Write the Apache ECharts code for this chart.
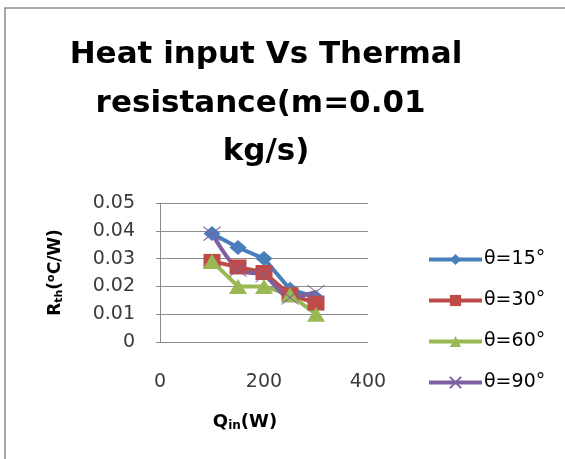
<!DOCTYPE html>
<html>
<head>
<meta charset="utf-8">
<script src="https://cdn.jsdelivr.net/npm/echarts@6/dist/echarts.min.js"></script>
<style>
  html, body { margin: 0; padding: 0; background: #fff; }
  #chart { width: 565px; height: 459px; }
</style>
</head>
<body>
<div id="chart"></div>
<script>
// Heat input (W) at which each thermal resistance was measured
const heatInput = [100, 150, 200, 250, 300];

// Thermal resistance R_th (°C/W) for each inclination angle
const rth15 = [0.039, 0.034, 0.030, 0.019, 0.016];
const rth30 = [0.029, 0.027, 0.025, 0.017, 0.014];
const rth60 = [0.029, 0.020, 0.020, 0.017, 0.010];
const rth90 = [0.039, 0.026, 0.024, 0.016, 0.018];

const seriesNames = ['θ=15°', 'θ=30°', 'θ=60°', 'θ=90°'];
const xTicks = [0, 200, 400];
const yTicks = [0, 0.01, 0.02, 0.03, 0.04, 0.05];

const FONT = '"DejaVu Sans", Verdana, sans-serif';
const colors = ['#4A7EBB', '#BE4B48', '#98B954', '#7D60A0'];

function pairs(ys) {
  return heatInput.map((x, i) => [x, ys[i]]);
}

const chart = echarts.init(document.getElementById('chart'), null, { renderer: 'canvas' });

chart.setOption({
  backgroundColor: '#ffffff',
  animation: false,
  color: colors,
  title: {
    text: 'Heat input Vs Thermal\nresistance(m=0.01 \nkg/s)',
    left: 261,
    top: 26,
    textAlign: 'center',
    textStyle: {
      fontFamily: FONT,
      fontWeight: 'bold',
      fontSize: 31,
      lineHeight: 48.5,
      color: '#000'
    }
  },
  graphic: [{
    type: 'rect',
    shape: { x: 5, y: 8, width: 620, height: 520 },
    style: { fill: null, stroke: '#8a8a8a', lineWidth: 1.5 },
    silent: true
  }],
  legend: {
    orient: 'vertical',
    left: 422,
    top: 245,
    itemWidth: 53,
    itemHeight: 14,
    itemGap: 22,
    lineStyle: { width: 4 },
    textStyle: { fontFamily: FONT, fontSize: 19, color: '#000', padding: [0, 0, 0, -3] },
    data: seriesNames
  },
  grid: { left: 160, right: 197, top: 203, bottom: 117, containLabel: false },
  xAxis: {
    type: 'value',
    min: xTicks[0],
    max: xTicks[xTicks.length - 1],
    interval: xTicks[1] - xTicks[0],
    name: '{a|Q}{s|in}{a|(W)}',
    nameLocation: 'middle',
    nameGap: 70,
    nameTextStyle: {
      padding: [0, 38, 0, 0],
      rich: {
        a: { fontFamily: FONT, fontWeight: 'bold', fontSize: 18, color: '#000' },
        s: { fontFamily: FONT, fontWeight: 'bold', fontSize: 12, color: '#000', padding: [8, 0, 0, 0] }
      }
    },
    axisLine: { show: false },
    axisTick: { show: false },
    splitLine: { show: false },
    axisLabel: { fontFamily: FONT, fontSize: 19, color: '#3a3a3a', margin: 31 }
  },
  yAxis: {
    type: 'value',
    min: yTicks[0],
    max: yTicks[yTicks.length - 1],
    interval: yTicks[1] - yTicks[0],
    name: '{a|R}{s|th}{a|(}{p|o}{a|C/W)}',
    nameLocation: 'middle',
    nameRotate: 90,
    nameGap: 95,
    nameTextStyle: {
      rich: {
        a: { fontFamily: FONT, fontWeight: 'bold', fontSize: 17, color: '#000' },
        s: { fontFamily: FONT, fontWeight: 'bold', fontSize: 11, color: '#000', padding: [8, 0, 0, 0] },
        p: { fontFamily: FONT, fontWeight: 'bold', fontSize: 11, color: '#000', padding: [0, 0, 8, 0] }
      }
    },
    axisLine: { show: true, lineStyle: { color: '#8c8c8c', width: 1 } },
    axisTick: { show: true, length: 4, lineStyle: { color: '#8c8c8c' } },
    splitLine: { show: true, lineStyle: { color: '#8c8c8c', width: 1 } },
    axisLabel: {
      fontFamily: FONT, fontSize: 19, color: '#3a3a3a', margin: 25,
      formatter: v => (v === 0 ? '0' : v.toFixed(2))
    }
  },
  series: [
    {
      name: seriesNames[0], type: 'line', data: pairs(rth15),
      symbol: 'diamond', symbolSize: [17, 15],
      lineStyle: { width: 4 }
    },
    {
      name: seriesNames[1], type: 'line', data: pairs(rth30),
      symbol: 'rect', symbolSize: [17, 15],
      lineStyle: { width: 4 }
    },
    {
      name: seriesNames[2], type: 'line', data: pairs(rth60),
      symbol: 'triangle', symbolSize: [18, 15],
      lineStyle: { width: 4 }
    },
    {
      name: seriesNames[3], type: 'line', data: pairs(rth90),
      smooth: 0.3,
      symbol: 'path://M0,0L10,10M10,0L0,10', symbolSize: [17, 14],
      itemStyle: { color: colors[3], borderColor: colors[3], borderWidth: 1 },
      lineStyle: { width: 4 }
    }
  ]
});
</script>
</body>
</html>
